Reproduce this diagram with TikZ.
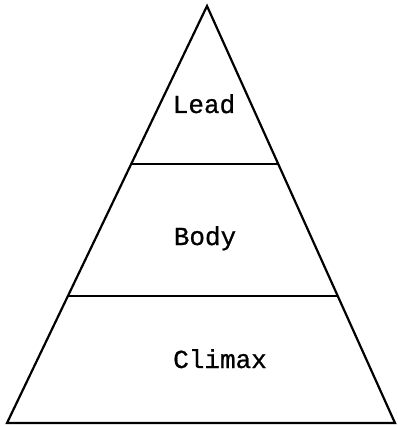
\documentclass[tikz,border=0pt]{standalone}
\usepackage{fontspec}
\newfontfamily\pyramidfont[FakeBold=0.8]{Liberation Mono}
\usetikzlibrary{calc}
\tikzset{%
  side/.style={draw=black, line width=2.2pt, line join=miter},% outline of the pyramid
  divider/.style={draw=black, line width=2.4pt},
  layer/.style={font=\pyramidfont\fontsize{26}{30}\selectfont, anchor=base, inner sep=0pt}}

\begin{document}
\begin{tikzpicture}[x=1pt,y=-1pt]
    \useasboundingbox (0,0) rectangle (397,427);

    \coordinate (apex) at (207,6);
    \coordinate (left) at (7,423);
    \coordinate (right) at (395,423);

    \draw[side] (apex) -- (left) -- (right) -- cycle;

    \coordinate (l1) at ($(apex)!0.379!(left)$);
    \coordinate (r1) at ($(apex)!0.379!(right)$);
    \coordinate (l2) at ($(apex)!0.695!(left)$);
    \coordinate (r2) at ($(apex)!0.695!(right)$);

    \draw[divider] (l1) -- (r1);
    \draw[divider] (l2) -- (r2);

    \node[layer] (lead) at (204,113) {Lead};
    \node[layer] (body) at (205,245) {Body};
    \node[layer] (climax) at (220,368) {Climax};
  \end{tikzpicture}
\end{document}
